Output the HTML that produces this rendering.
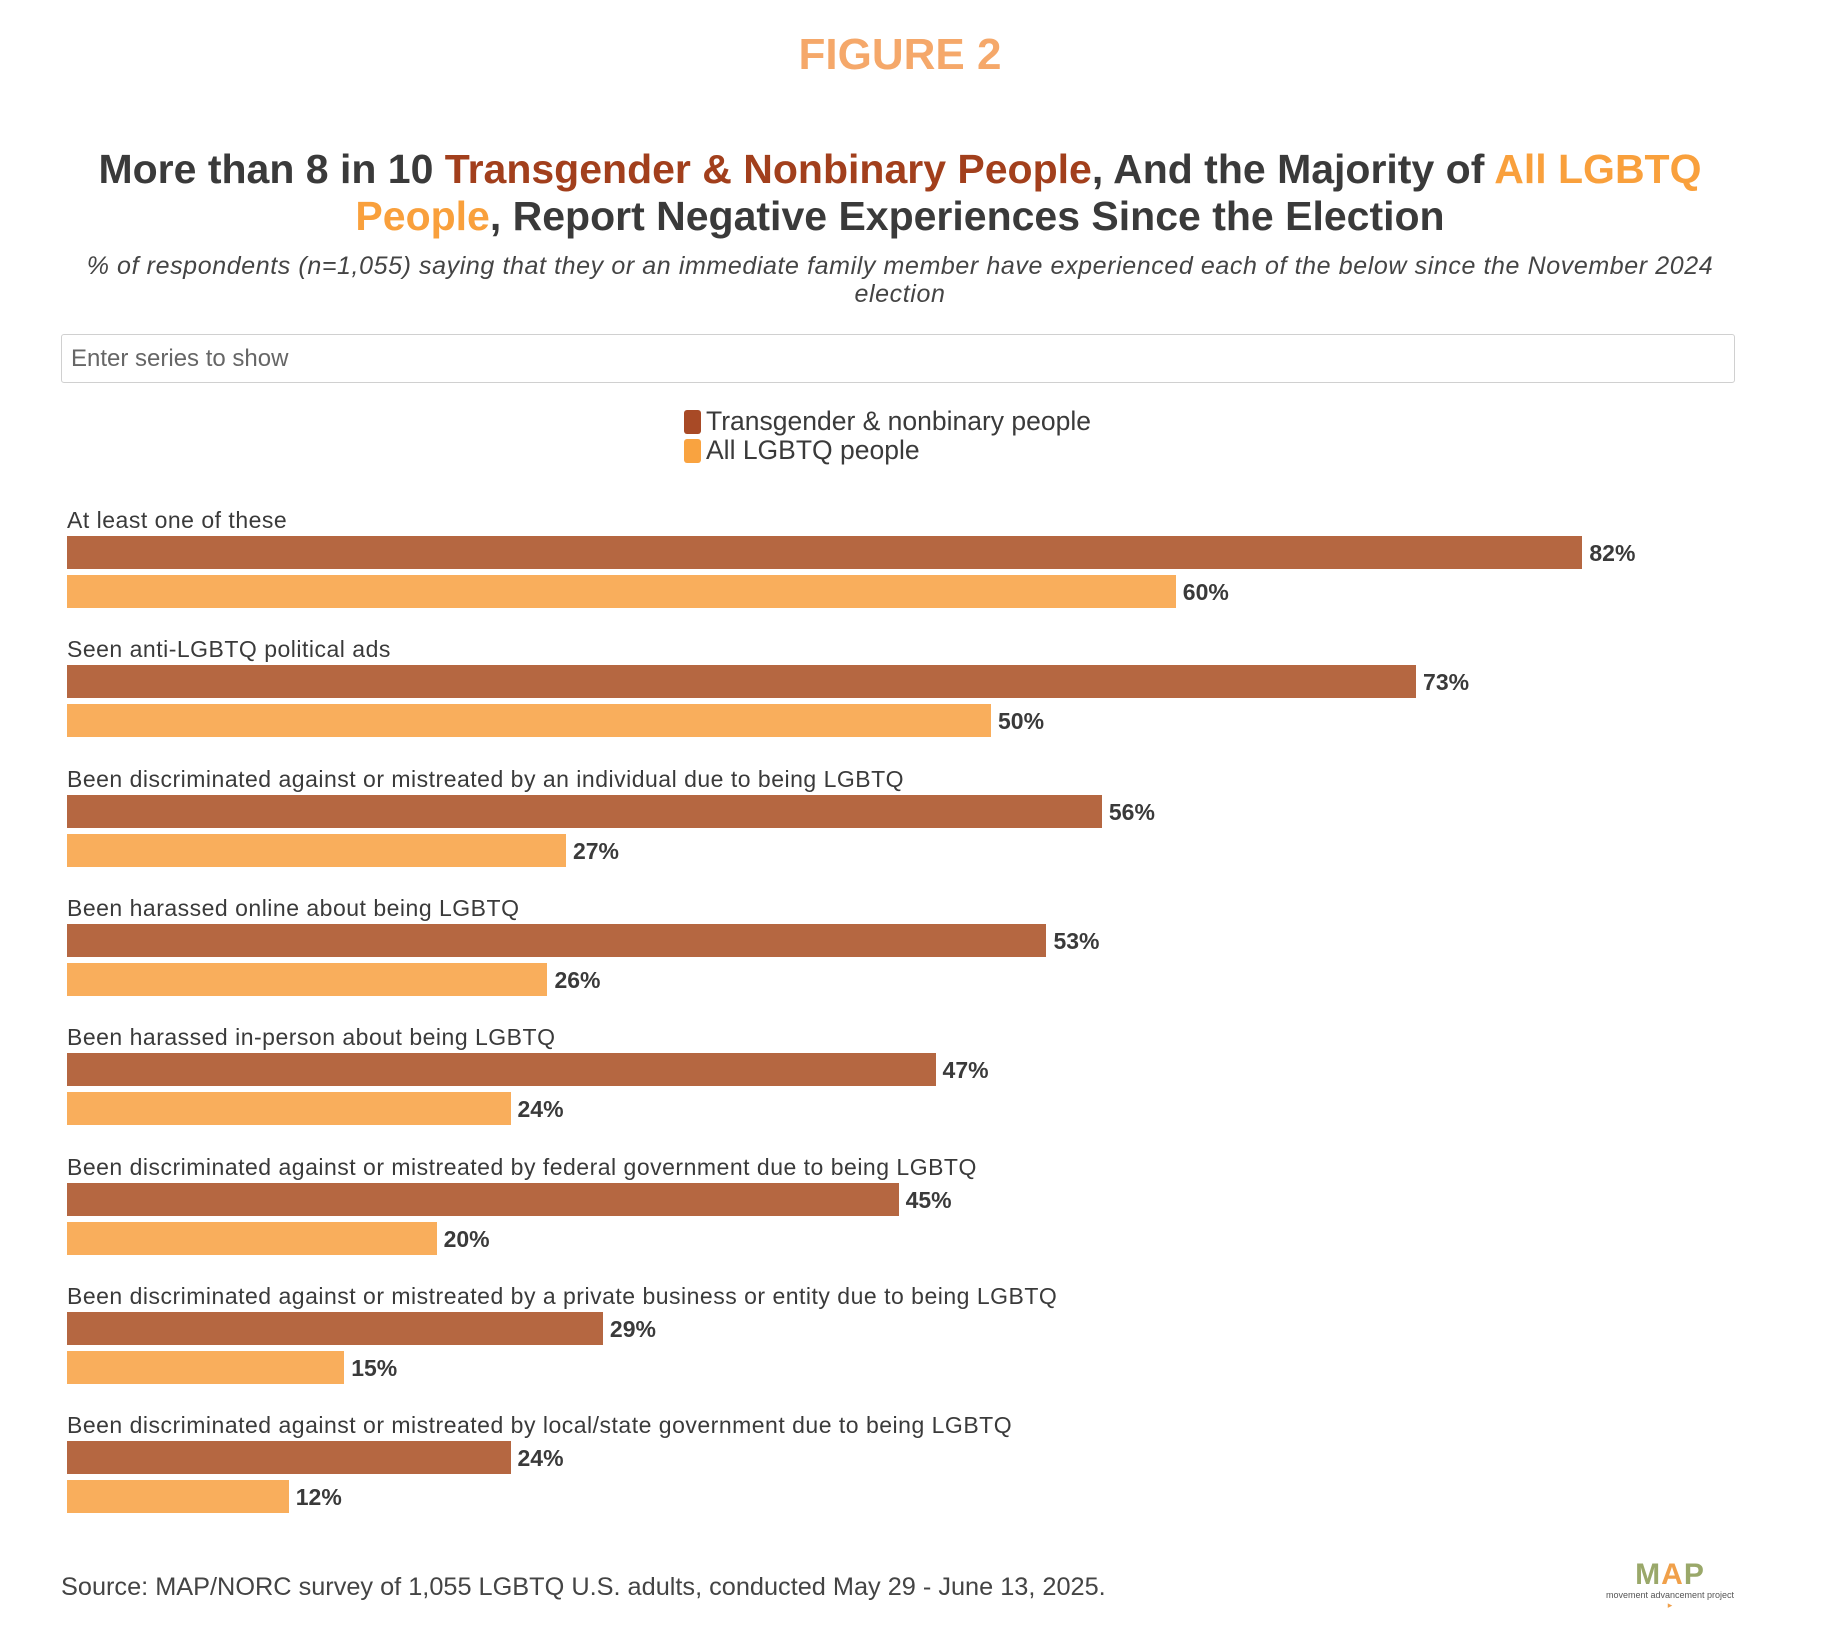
<!DOCTYPE html>
<html><head><meta charset="utf-8"><style>
body{margin:0;width:1831px;height:1643px;background:#fff;font-family:"Liberation Sans",sans-serif;position:relative;overflow:hidden;color:#3a3a3a}
.abs{position:absolute}
</style></head><body>
<div class="abs" style="left:0;width:1800px;top:30px;text-align:center;font-size:44px;font-weight:bold;color:#f5a86a">FIGURE 2</div>
<div class="abs" style="left:70px;width:1660px;top:146px;text-align:center;font-size:41px;font-weight:bold;line-height:47px;color:#3a3a3a">More than 8 in 10 <span style="color:#a23f1c">Transgender &amp; Nonbinary People</span>, And the Majority of <span style="color:#f9a03c">All LGBTQ People</span>, Report Negative Experiences Since the Election</div>
<div class="abs" style="left:62px;width:1676px;top:252px;text-align:center;font-size:25px;letter-spacing:0.6px;font-style:italic;line-height:28px;color:#444">% of respondents (n=1,055) saying that they or an immediate family member have experienced each of the below since the November 2024 election</div>
<div class="abs" style="left:61px;top:334px;width:1674px;height:49px;border:1px solid #d0d0d0;border-radius:3px;font-size:24px;color:#666;line-height:47px;padding-left:9px;box-sizing:border-box">Enter series to show</div>
<div class="abs" style="left:684px;top:407px;font-size:26.5px;line-height:29px"><span style="display:inline-block;width:17px;height:24px;background:#a84a26;border-radius:3px;vertical-align:-4px;margin-right:5px"></span>Transgender &amp; nonbinary people</div>
<div class="abs" style="left:684px;top:436px;font-size:26.5px;line-height:29px"><span style="display:inline-block;width:17px;height:24px;background:#f9a340;border-radius:3px;vertical-align:-4px;margin-right:5px"></span>All LGBTQ people</div>
<div id="chart"></div>
<div class="abs" style="left:61px;top:1573px;font-size:25.3px;color:#444">Source: MAP/NORC survey of 1,055 LGBTQ U.S. adults, conducted May 29 - June 13, 2025.</div>
<div class="abs" style="left:1605px;top:1560px;width:130px;text-align:center">
<div style="font-size:30px;font-weight:bold;letter-spacing:1px;line-height:30px"><span style="color:#9aa86a">M</span><span style="color:#f0a04a">A</span><span style="color:#9aa86a">P</span></div>
<div style="font-size:9px;color:#555">movement advancement project <span style="color:#f0a04a">▸</span></div></div>
<script>
const categories=["At least one of these","Seen anti-LGBTQ political ads","Been discriminated against or mistreated by an individual due to being LGBTQ","Been harassed online about being LGBTQ","Been harassed in-person about being LGBTQ","Been discriminated against or mistreated by federal government due to being LGBTQ","Been discriminated against or mistreated by a private business or entity due to being LGBTQ","Been discriminated against or mistreated by local/state government due to being LGBTQ"];
const transValues=[82,73,56,53,47,45,29,24];
const allValues=[60,50,27,26,24,20,15,12];
const x0=67, perPct=18.48, top0=504, pitch=129.3;
const xScale=v=>v*perPct;
const chart=document.getElementById('chart');
function mk(style,text){const d=document.createElement('div');d.className='abs';d.style.cssText=style;if(text!=null)d.textContent=text;chart.appendChild(d);return d;}
categories.forEach((c,i)=>{
  const y=top0+i*pitch;
  const l=mk(`left:${x0}px;top:${y+3}px;font-size:23px;letter-spacing:0.5px;color:#3a3a3a;white-space:nowrap`,c);
  
  
  [[transValues[i],'#b56741',y+32,'trans'],[allValues[i],'#f9ae5c',y+71,'all']].forEach(([v,col,by,s])=>{
    const b=mk(`left:${x0}px;top:${by}px;width:${xScale(v)}px;height:33px;background:${col}`);
    
    
    const t=mk(`left:${x0+xScale(v)+7}px;top:${by+4}px;font-size:23px;font-weight:bold;color:#3a3a3a`,v+'%');
    
    
  });
});
</script>
</body></html>
